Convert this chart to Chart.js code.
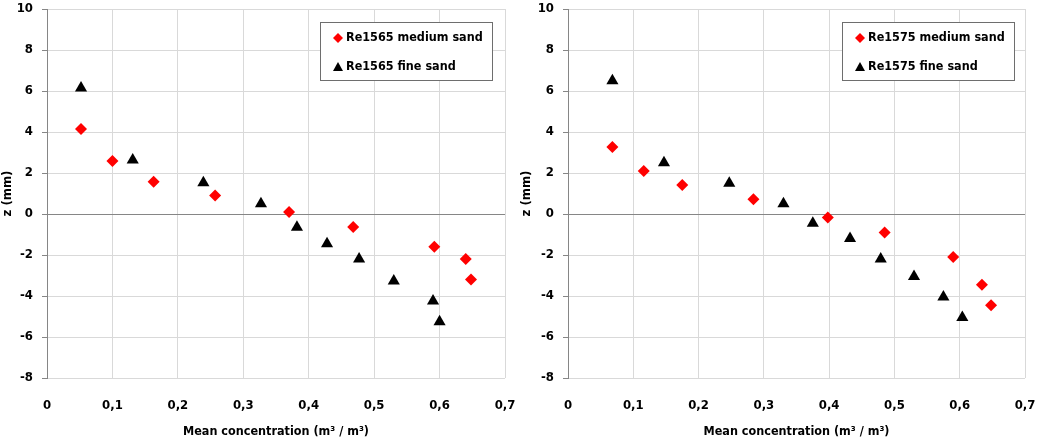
<!DOCTYPE html>
<html>
<head>
<meta charset="utf-8">
<script src="https://cdn.jsdelivr.net/npm/chart.js@4/dist/chart.umd.min.js"></script>
<style>
  html, body { margin: 0; padding: 0; background: #fff; }
  #wrap { display: flex; width: 1038px; height: 442px; }
  .box { position: relative; height: 442px; }
</style>
</head>
<body>
<div id="wrap">
  <div class="box" style="width:519px"><canvas id="left"></canvas></div>
  <div class="box" style="width:519px"><canvas id="right"></canvas></div>
</div>
<script>
// Re1565
const re1565MediumX = [0.052, 0.100, 0.163, 0.257, 0.370, 0.468, 0.592, 0.640, 0.648]
const re1565MediumZ = [4.15, 2.58, 1.57, 0.90, 0.10, -0.63, -1.60, -2.20, -3.20]
const re1565FineX = [0.052, 0.131, 0.239, 0.327, 0.382, 0.428, 0.477, 0.530, 0.590, 0.600]
const re1565FineZ = [6.15, 2.63, 1.52, 0.50, -0.65, -1.45, -2.20, -3.27, -4.24, -5.25]
// Re1575
const re1575MediumX = [0.068, 0.116, 0.175, 0.284, 0.398, 0.485, 0.590, 0.634, 0.648]
const re1575MediumZ = [3.27, 2.10, 1.42, 0.72, -0.17, -0.90, -2.10, -3.45, -4.45]
const re1575FineX = [0.068, 0.147, 0.247, 0.330, 0.375, 0.432, 0.479, 0.530, 0.575, 0.604]
const re1575FineZ = [6.50, 2.50, 1.50, 0.50, -0.45, -1.20, -2.20, -3.05, -4.05, -5.05]

const xTicks = [0, 0.1, 0.2, 0.3, 0.4, 0.5, 0.6, 0.7]
const yTicks = [-8, -6, -4, -2, 0, 2, 4, 6, 8, 10]

const FONT = "'DejaVu Sans Condensed', 'DejaVu Sans', sans-serif"

const pts = (xs, ys) => xs.map((x, i) => ({ x: x, y: ys[i] }))

// legend drawn inside the plot with a border, like the Excel original
const boxLegend = {
  id: 'boxLegend',
  afterDraw (chart, args, opts) {
    const ctx = chart.ctx
    const a = chart.chartArea
    const w = 172, h = 58
    const x0 = a.right - opts.right - w, y0 = a.top + opts.top
    ctx.save()
    ctx.fillStyle = '#fff'
    ctx.fillRect(x0, y0, w, h)
    ctx.strokeStyle = '#6e6e6e'
    ctx.lineWidth = 1
    ctx.strokeRect(x0 + 0.5, y0 + 0.5, w, h)
    ctx.font = 'bold 12.5px ' + FONT
    ctx.textBaseline = 'middle'
    chart.data.datasets.forEach((ds, i) => {
      const cy = y0 + 16 + i * 29
      const cx = x0 + 18
      ctx.fillStyle = ds.backgroundColor
      ctx.beginPath()
      if (ds.pointStyle === 'rectRot') {
        ctx.moveTo(cx, cy - 5); ctx.lineTo(cx + 5, cy); ctx.lineTo(cx, cy + 5); ctx.lineTo(cx - 5, cy)
      } else {
        ctx.moveTo(cx, cy - 5); ctx.lineTo(cx + 5, cy + 4); ctx.lineTo(cx - 5, cy + 4)
      }
      ctx.closePath()
      ctx.fill()
      ctx.fillStyle = '#000'
      ctx.fillText(ds.label, cx + 8, cy)
    })
    ctx.restore()
  }
}

function makeChart (id, name, mx, mz, fx, fz, leftW, rightPad, legendRight) {
  return new Chart(document.getElementById(id), {
    type: 'scatter',
    data: {
      datasets: [{
        label: name + ' medium sand',
        data: pts(mx, mz),
        pointStyle: 'rectRot',
        pointRadius: 6,
        backgroundColor: '#ff0000',
        borderColor: '#ff0000',
        borderWidth: 0
      }, {
        label: name + ' fine sand',
        data: pts(fx, fz),
        pointStyle: 'triangle',
        pointRadius: 7,
        backgroundColor: '#000000',
        borderColor: '#000000',
        borderWidth: 0
      }]
    },
    options: {
      responsive: true,
      maintainAspectRatio: false,
      animation: false,
      layout: { padding: { top: 9, right: rightPad, bottom: 0, left: 0 } },
      plugins: {
        legend: { display: false },
        tooltip: { enabled: false },
        boxLegend: { top: 13, right: legendRight }
      },
      scales: {
        x: {
          type: 'linear',
          min: 0, max: 0.7,
          afterBuildTicks: s => { s.ticks = xTicks.map(v => ({ value: v })) },
          afterFit: s => { s.height = 64; s.paddingRight = 0; s.paddingLeft = 0 },
          grid: { color: '#d9d9d9', drawTicks: false },
          border: { display: false },
          ticks: {
            padding: 20,
            color: '#000',
            font: { family: FONT, weight: 'bold', size: 13 },
            callback: v => v === 0 ? '0' : (Math.round(v * 10) / 10).toFixed(1).replace('.', ',')
          },
          title: {
            display: true,
            text: 'Mean concentration (m³ / m³)',
            color: '#000',
            font: { family: FONT, weight: 'bold', size: 12.5 },
            padding: { top: 4, bottom: 3 }
          }
        },
        y: {
          min: -8, max: 10,
          afterBuildTicks: s => { s.ticks = yTicks.map(v => ({ value: v })) },
          afterFit: s => { s.width = leftW; s.paddingTop = 0; s.paddingBottom = 0 },
          grid: {
            color: c => c.tick && c.tick.value === 0 ? '#868686' : '#d9d9d9',
            tickColor: '#868686',
            tickLength: 5
          },
          border: { display: true, color: '#868686' },
          ticks: {
            padding: 9,
            color: '#000',
            font: { family: FONT, weight: 'bold', size: 13 }
          },
          title: {
            display: true,
            text: 'z (mm)',
            color: '#000',
            font: { family: FONT, weight: 'bold', size: 13 },
            padding: { top: 0, bottom: 0 }
          }
        }
      }
    },
    plugins: [boxLegend]
  })
}

makeChart('left', 'Re1565', re1565MediumX, re1565MediumZ, re1565FineX, re1565FineZ, 47, 14, 13)
makeChart('right', 'Re1575', re1575MediumX, re1575MediumZ, re1575FineX, re1575FineZ, 49, 13, 11)
</script>
</body>
</html>
